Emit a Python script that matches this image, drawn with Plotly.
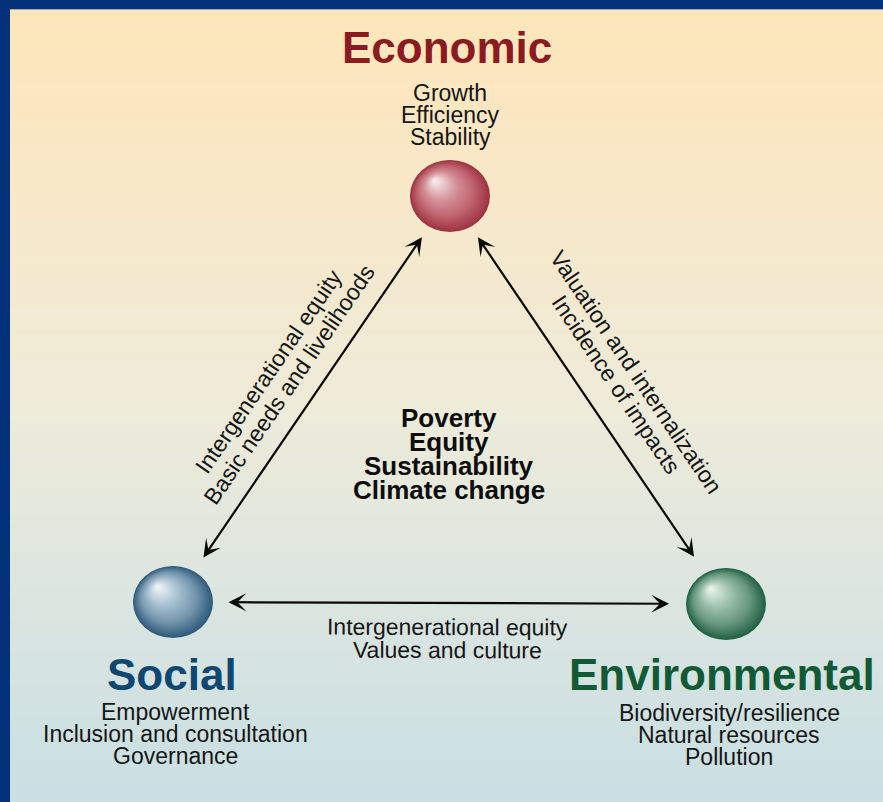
import numpy as np
import plotly.graph_objects as go

# ---------------- data (text content of the diagram) ----------------
node_names = ["Economic", "Social", "Environmental"]
node_items = [
    ["Growth", "Efficiency", "Stability"],
    ["Empowerment", "Inclusion and consultation", "Governance"],
    ["Biodiversity/resilience", "Natural resources", "Pollution"],
]
edge_pairs = [(0, 1), (0, 2), (1, 2)]
edge_labels = [
    ["Intergenerational equity", "Basic needs and livelihoods"],
    ["Valuation and internalization", "Incidence of impacts"],
    ["Intergenerational equity", "Values and culture"],
]
center_themes = ["Poverty", "Equity", "Sustainability", "Climate change"]

# ---------------- layout constants (pixel space, y grows downward) ----------------
W, H = 883, 802
BORDER_TOP, BORDER_LEFT = 9, 10
node_cx = [450, 173, 726]
node_cy = [196, 602, 604]
sphere_rx, sphere_ry = 40, 36
arrow_trim = [48, 54, 57]
title_pos = [(447, 47), (172, 674), (722, 674)]
items_pos = [(450, 93), (175, 712), (729, 713)]
item_step = 22
title_colors = ["#8b1b20", "#0f4770", "#115a35"]
sphere_colors = [
    [(158, 52, 66), (192, 100, 112), (212, 142, 150), (248, 234, 236)],
    [(48, 92, 124), (115, 148, 172), (160, 188, 205), (238, 244, 247)],
    [(35, 98, 70), (105, 152, 127), (150, 188, 166), (232, 242, 236)],
]
edge_offset = [39, 44, 36]
edge_along = [4, 8, 0]
edge_spacing = [24, 24, 23]
center_pos = (449, 418)
center_step = 24
bg_stops = [[0.0, "#fde6ba"], [0.25, "#f7e8ca"], [0.5, "#eeebd9"],
            [0.75, "#dbe5e0"], [1.0, "#c9dfe3"]]

FONT = "Liberation Sans, Arial, sans-serif"
TXT = "#161616"

fig = go.Figure()

# background gradient
N = 120
dy = (H - BORDER_TOP - 0.5) / N
dx = (W - BORDER_LEFT) / 2
fig.add_trace(go.Heatmap(
    z=np.linspace(0, 1, N).reshape(N, 1).repeat(2, axis=1),
    x0=BORDER_LEFT + dx / 2, dx=dx, y0=BORDER_TOP + 0.5 + dy / 2, dy=dy,
    colorscale=bg_stops, showscale=False, hoverinfo="skip", zsmooth="best"))

shapes = []
# thin grey line under top border
shapes.append(dict(type="line", x0=BORDER_LEFT, x1=W, y0=BORDER_TOP + 0.5, y1=BORDER_TOP + 0.5,
                   line=dict(color="#a7a9a8", width=1), layer="above"))


def lerp_col(stops, t):
    pos = [0.0, 0.3, 0.6, 1.0]
    for k in range(len(pos) - 1):
        if t <= pos[k + 1]:
            f = (t - pos[k]) / (pos[k + 1] - pos[k])
            a, b = stops[k], stops[k + 1]
            return "rgb(%d,%d,%d)" % tuple(round(a[i] + (b[i] - a[i]) * f) for i in range(3))
    return "rgb(%d,%d,%d)" % stops[-1]


# spheres as stacked ellipses
K = 45
for n in range(3):
    cx, cy = node_cx[n], node_cy[n]
    hx, hy = cx - 0.38 * sphere_rx, cy - 0.42 * sphere_ry
    for k in range(K):
        t = k / (K - 1)
        s = 1 - 0.96 * t
        ccx = cx + (hx - cx) * t
        ccy = cy + (hy - cy) * t
        shapes.append(dict(type="circle", xref="x", yref="y",
                           x0=ccx - sphere_rx * s, x1=ccx + sphere_rx * s,
                           y0=ccy - sphere_ry * s, y1=ccy + sphere_ry * s,
                           fillcolor=lerp_col(sphere_colors[n], t),
                           line=dict(width=0), layer="above"))

annotations = []
centroid = np.array([np.mean(node_cx), np.mean(node_cy)])

# arrows + edge labels
for e, (i, j) in enumerate(edge_pairs):
    p = np.array([node_cx[i], node_cy[i]], float)
    q = np.array([node_cx[j], node_cy[j]], float)
    u = (q - p) / np.linalg.norm(q - p)
    a = p + u * arrow_trim[i]
    b = q - u * arrow_trim[j]
    annotations.append(dict(
        x=b[0], y=b[1], ax=a[0], ay=a[1], xref="x", yref="y", axref="x", ayref="y",
        text="", showarrow=True, arrowside="end+start", arrowhead=3, startarrowhead=3,
        arrowsize=1.35, startarrowsize=1.35, arrowwidth=2.2, arrowcolor="#0a0a0a",
        standoff=0, startstandoff=0))
    ang = np.degrees(np.arctan2(u[1], u[0]))
    if ang > 90:
        ang -= 180
    if ang < -90:
        ang += 180
    th = np.radians(ang)
    up = np.array([np.sin(th), -np.cos(th)])
    down = -up
    mid = (a + b) / 2
    nrm = np.array([-u[1], u[0]])
    if np.dot(nrm, mid - centroid) < 0:
        nrm = -nrm
    center = mid + nrm * edge_offset[e] + u * edge_along[e]
    lines = edge_labels[e]
    for k, txt in enumerate(lines):
        c = center + (k - (len(lines) - 1) / 2) * edge_spacing[e] * down
        annotations.append(dict(x=c[0], y=c[1], xref="x", yref="y", text=txt,
                                showarrow=False, textangle=ang,
                                xanchor="center", yanchor="middle",
                                font=dict(family=FONT, size=23, color=TXT)))

# node titles and items
for n in range(3):
    tx, ty = title_pos[n]
    annotations.append(dict(x=tx, y=ty, xref="x", yref="y", text="<b>%s</b>" % node_names[n],
                            showarrow=False, xanchor="center", yanchor="middle",
                            font=dict(family=FONT, size=44, color=title_colors[n])))
    ix, iy = items_pos[n]
    for k, txt in enumerate(node_items[n]):
        annotations.append(dict(x=ix, y=iy + k * item_step, xref="x", yref="y", text=txt,
                                showarrow=False, xanchor="center", yanchor="middle",
                                font=dict(family=FONT, size=23, color=TXT)))

# central themes
for k, txt in enumerate(center_themes):
    annotations.append(dict(x=center_pos[0], y=center_pos[1] + k * center_step, xref="x", yref="y",
                            text="<b>%s</b>" % txt, showarrow=False,
                            xanchor="center", yanchor="middle",
                            font=dict(family=FONT, size=26, color="#0d0d0d")))

fig.update_layout(
    width=W, height=H, margin=dict(l=0, r=0, t=0, b=0, pad=0),
    paper_bgcolor="#03317a", plot_bgcolor="#03317a",
    xaxis=dict(range=[0, W], visible=False, fixedrange=True),
    yaxis=dict(range=[H, 0], visible=False, fixedrange=True),
    shapes=shapes, annotations=annotations, showlegend=False,
)

fig.write_html("out.html", config={"displayModeBar": False},
               post_script="document.body.style.margin='0';")
